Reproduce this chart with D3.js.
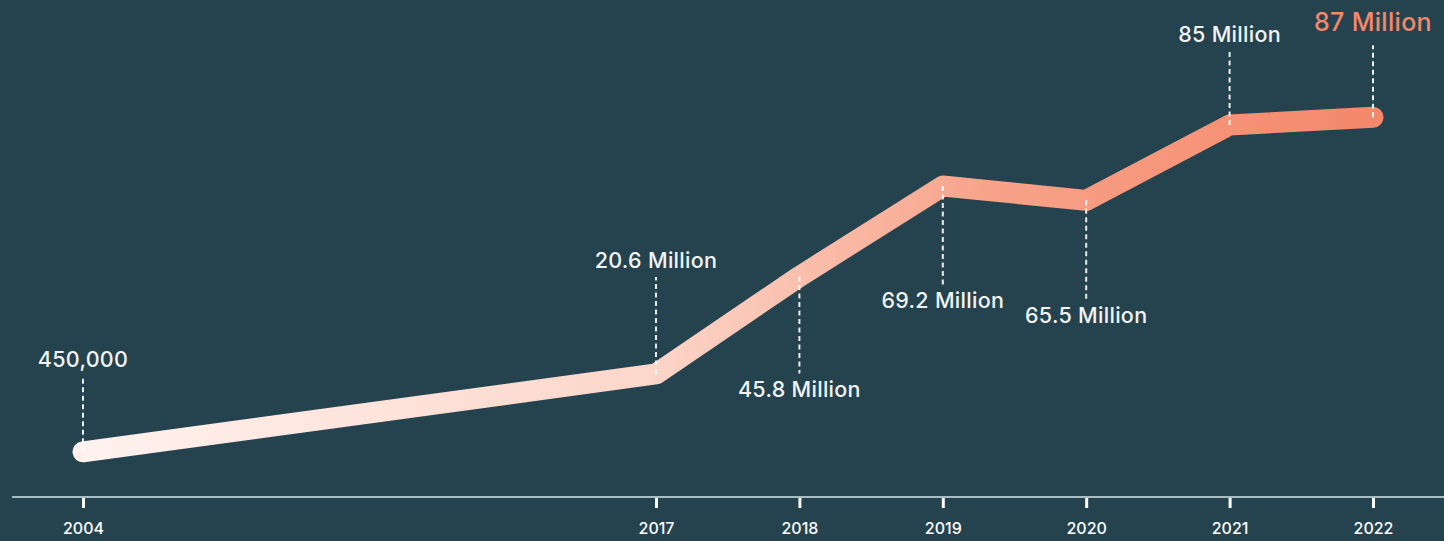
<!DOCTYPE html>
<html>
<head>
<meta charset="utf-8">
<script src="https://cdn.jsdelivr.net/npm/d3@7"></script>
<style>
  html, body { margin: 0; padding: 0; background: #25444f; }
  svg { display: block; }
  text { font-family: Inter, "Open Sans", sans-serif; }
</style>
</head>
<body>
<svg id="chart" width="1444" height="541"></svg>
<script>
// Users per year, in millions
const years  = [2004, 2017, 2018, 2019, 2020, 2021, 2022];
const users  = [0.45, 20.6, 45.8, 69.2, 65.5, 85, 87];
const labels = ["450,000", "20.6 Million", "45.8 Million", "69.2 Million", "65.5 Million", "85 Million", "87 Million"];

// Callout layout: which side of the line each label sits on, and leader length
const labelSide   = ["above", "above", "below", "below", "below", "above", "above"];
const leaderLen   = [76, 97, 97, 99, 100, 74, 72];

const W = 1444, H = 541;
const svg = d3.select("#chart");

svg.append("rect").attr("width", W).attr("height", H).attr("fill", "#24434f");

// Broken time axis: the long gap before 2017 is compressed
const x = d3.scaleLinear().domain([2004, 2017, 2022]).range([83, 656, 1373]);
const y = d3.scaleLinear().domain([0, 90]).range([453.6, 105.6]);

const data = years.map((yr, i) => ({ year: yr, value: users[i], label: labels[i], side: labelSide[i], len: leaderLen[i] }));

// Baseline
const baseY = 497;
svg.append("line")
  .attr("x1", 12).attr("x2", W)
  .attr("y1", baseY).attr("y2", baseY)
  .attr("stroke", "#a9bec2").attr("stroke-width", 2);

// Year axis
const axis = d3.axisBottom(x)
  .tickValues(years)
  .tickFormat(d3.format("d"))
  .tickSize(10)
  .tickPadding(15);

const gx = svg.append("g").attr("transform", `translate(0,${baseY + 1})`).call(axis);
gx.select(".domain").remove();
gx.selectAll(".tick line").attr("stroke", "#ffffff").attr("stroke-width", 3);
gx.selectAll(".tick text")
  .attr("fill", "#ffffff")
  .attr("font-size", 16)
  .attr("font-weight", 500)
  .attr("font-family", "Inter, sans-serif");

// Gradient along the line
const defs = svg.append("defs");
const grad = defs.append("linearGradient")
  .attr("id", "lineGrad")
  .attr("gradientUnits", "userSpaceOnUse")
  .attr("x1", x(2004)).attr("x2", x(2022))
  .attr("y1", 0).attr("y2", 0);
grad.append("stop").attr("offset", "0%").attr("stop-color", "#fff2ee");
grad.append("stop").attr("offset", "44%").attr("stop-color", "#fcd6c9");
grad.append("stop").attr("offset", "70%").attr("stop-color", "#f7a38a");
grad.append("stop").attr("offset", "100%").attr("stop-color", "#f4886a");

const line = d3.line()
  .x(d => x(d.year))
  .y(d => y(d.value))
  .curve(d3.curveLinear);

svg.append("path")
  .datum(data)
  .attr("d", line)
  .attr("fill", "none")
  .attr("stroke", "url(#lineGrad)")
  .attr("stroke-width", 21)
  .attr("stroke-linecap", "round")
  .attr("stroke-linejoin", "round");

// Callouts: dashed leader plus value label
const call = svg.append("g").selectAll("g").data(data).join("g");

call.append("line")
  .attr("x1", d => x(d.year)).attr("x2", d => x(d.year))
  .attr("y1", d => y(d.value))
  .attr("y2", d => d.side === "above" ? y(d.value) - d.len : y(d.value) + d.len)
  .attr("stroke", "#ffffff")
  .attr("stroke-opacity", 0.9)
  .attr("stroke-width", 2)
  .attr("stroke-dasharray", "5,3.5");

call.append("text")
  .attr("x", d => x(d.year))
  .attr("y", (d, i) => {
    if (d.side === "below") return y(d.value) + d.len + 23;
    return y(d.value) - d.len - (i === data.length - 1 ? 14 : 9);
  })
  .attr("text-anchor", "middle")
  .attr("fill", (d, i) => i === data.length - 1 ? "#f4886a" : "#f2f4f4")
  .attr("font-size", (d, i) => i === data.length - 1 ? 25 : 21.5)
  .attr("letter-spacing", 0.3)
  .attr("font-weight", 500)
  .text(d => d.label);
</script>
</body>
</html>
